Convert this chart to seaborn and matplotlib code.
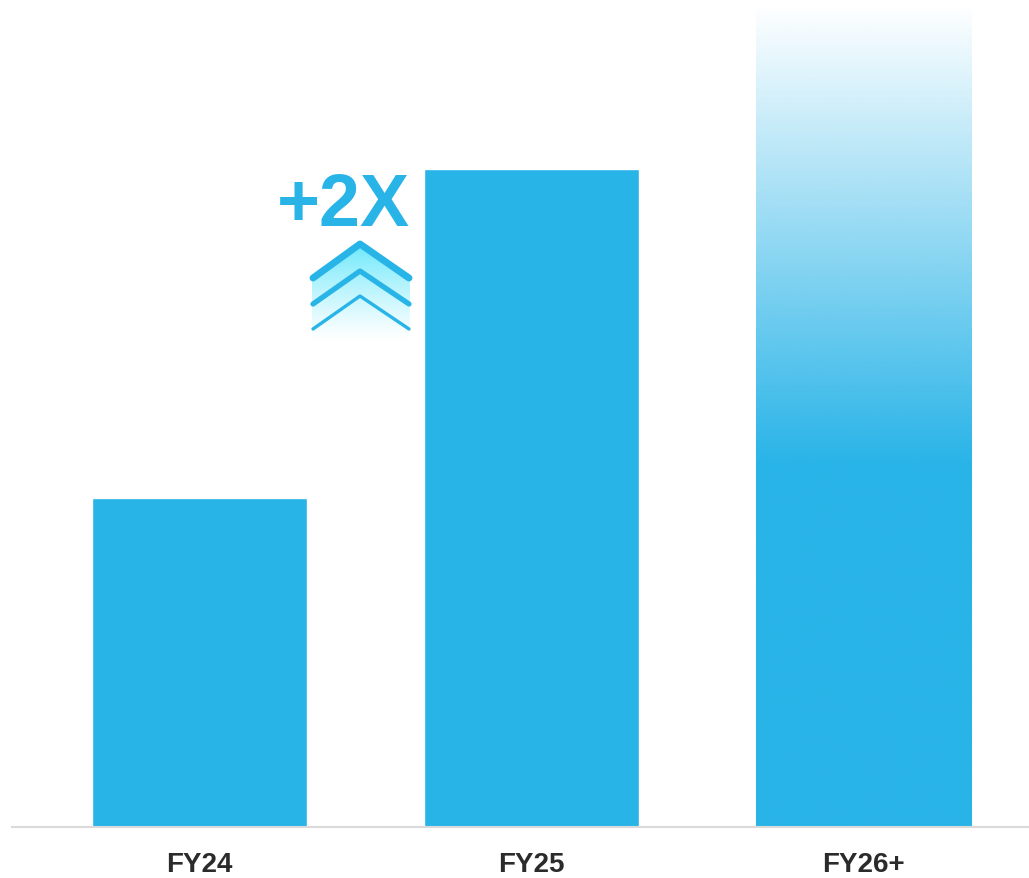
import numpy as np
import pandas as pd
import matplotlib
matplotlib.use("Agg")
import matplotlib.pyplot as plt
from matplotlib.colors import to_rgb
from matplotlib.patches import Polygon
import seaborn as sns

# Data
years = ["FY24", "FY25", "FY26+"]
values = [1.0, 2.0, 2.5]
growth_label = "+2X"

BAR_BLUE = "#29B4E8"
FADE_START = 1.11  # value where the outlook bar starts to fade

sns.set_theme(style="white")
plt.rcParams["font.family"] = ["Liberation Sans", "DejaVu Sans"]

df = pd.DataFrame({"year": years, "value": values})

fig = plt.figure(figsize=(10.29, 8.79), dpi=100)
ax = fig.add_axes([12 / 1029, 51 / 879, 1017 / 1029, 828 / 879])

sns.barplot(data=df, x="year", y="value", color=BAR_BLUE, width=0.648,
            saturation=1, ax=ax)

ax.set_xlim(-0.565, 2.498)
ax.set_ylim(0, 828 / 329)

# Outlook bar: solid at the bottom, fading to white towards the top
last = ax.patches[-1]
x0, w, h = last.get_x(), last.get_width(), last.get_height()
last.set_facecolor("none")
ys = np.linspace(0, h, 400)
alpha = np.clip((h - ys) / (h - FADE_START), 0, 1)
rgba = np.zeros((400, 1, 4))
rgba[:, 0, :3] = to_rgb(BAR_BLUE)
rgba[:, 0, 3] = alpha
im = ax.imshow(rgba, extent=[x0, x0 + w, 0, h], origin="lower",
               aspect="auto", interpolation="bilinear", zorder=2)
im.set_clip_path(last)
ax.set_xlim(-0.565, 2.498)
ax.set_ylim(0, 828 / 329)

for s in ["top", "right", "left"]:
    ax.spines[s].set_visible(False)
ax.spines["bottom"].set_color("#dadada")
ax.spines["bottom"].set_linewidth(1.5)
ax.set_xlabel("")
ax.set_ylabel("")
ax.set_yticks([])
ax.tick_params(axis="x", length=0, pad=17)
for lbl in ax.get_xticklabels():
    lbl.set_fontsize(20)
    lbl.set_fontweight("bold")
    lbl.set_color("#2b2b2b")

# Growth annotation layer in pixel coordinates
ov = fig.add_axes([0, 0, 1, 1], facecolor="none")
ov.set_xlim(0, 1029)
ov.set_ylim(879, 0)
ov.axis("off")

ov.text(410, 226, growth_label, ha="right", va="baseline", fontsize=53,
        fontweight="bold", color=BAR_BLUE)

# Soft glow beneath the chevrons
glow_poly = Polygon([(312, 279), (360, 245), (410, 279), (410, 342), (312, 342)],
                    closed=True, facecolor="none", edgecolor="none")
ov.add_patch(glow_poly)
gy = np.linspace(0, 1, 200)
glow = np.zeros((200, 1, 4))
glow[:, 0, :3] = to_rgb("#6ee9fc")
glow[:, 0, 3] = np.clip(1 - gy, 0, 1) ** 1.2
gim = ov.imshow(glow, extent=[312, 410, 342, 245], aspect="auto",
                interpolation="bilinear", zorder=1)
gim.set_clip_path(glow_poly)

chevrons = [(245, 279, 5.0), (272, 305, 3.8), (297, 330, 2.4)]
for apex_y, end_y, lw in chevrons:
    ov.plot([313, 360, 409], [end_y, apex_y, end_y], color=BAR_BLUE,
            lw=lw, solid_capstyle="round", solid_joinstyle="round", zorder=3)
ov.set_xlim(0, 1029)
ov.set_ylim(879, 0)

fig.savefig("out.png", dpi=100, facecolor="white")
